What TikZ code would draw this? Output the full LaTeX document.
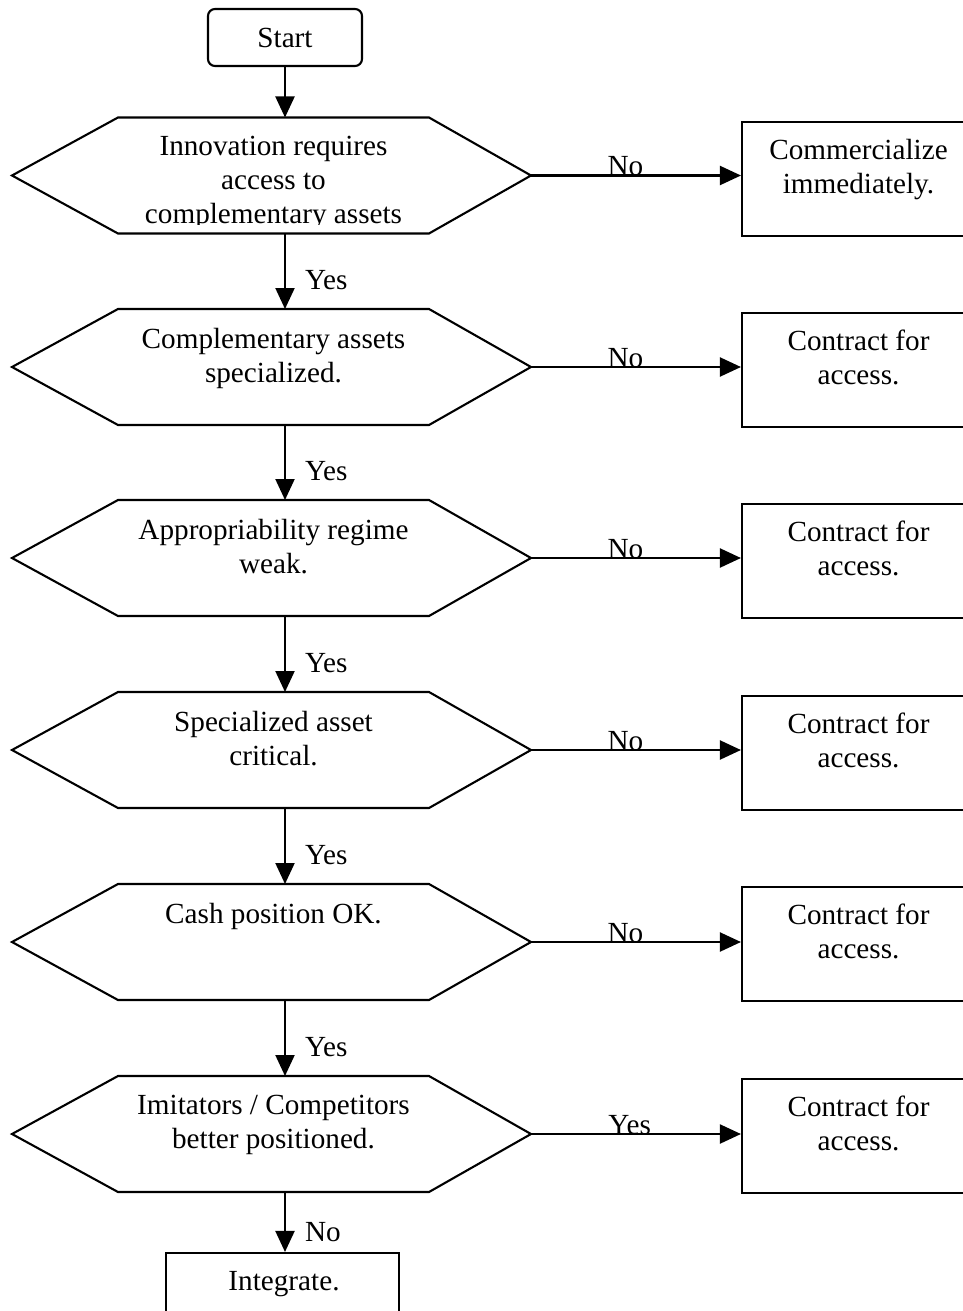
\documentclass[tikz,border=0pt]{standalone}
\usepackage{fontspec}
\setmainfont{Liberation Serif}
\usetikzlibrary{arrows.meta}

\tikzset{
  every picture/.style={x=1pt, y=-1pt},
  edge line/.style={line width=2.1pt},
  flow/.style={edge line, -{Triangle[length=21pt,width=19pt]}},
  txt/.style={font=\fontsize{29.2}{34}\selectfont, align=center, inner sep=0pt, outer sep=0pt},
  startbox/.style={draw, edge line, rounded corners=7pt, minimum width=154pt,
                   minimum height=57pt, inner sep=0pt, txt},
  hexframe/.style={minimum width=519pt, minimum height=116pt, inner sep=0pt, outer sep=0pt},
  rbox/.style={draw, edge line, minimum width=233pt, minimum height=114pt, inner sep=0pt},
  lowbox/.style={draw, edge line, minimum width=233pt, minimum height=110pt, inner sep=0pt},
  flowlabel/.style={txt, anchor=base},
  sidelabel/.style={txt, anchor=base west, xshift=20pt},
}

% hexagonal decision outline built on an empty frame node
\newcommand\hexoutline[1]{%
  \draw[edge line, line join=miter]
    (#1.west) -- ([xshift=106pt]#1.north west) -- ([xshift=-102pt]#1.north east)
    -- (#1.east) -- ([xshift=-102pt]#1.south east) -- ([xshift=106pt]#1.south west)
    -- cycle;}

\begin{document}
\begin{tikzpicture}
\useasboundingbox (0,0) rectangle (963,1311);
\clip (0,0) rectangle (963,1311);

% start terminal
\node[startbox] (s) at (285,37.5) {Start};

% decision frames
\node[hexframe] (h1) at (271.5,175.5) {};
\node[hexframe] (h2) at (271.5,367) {};
\node[hexframe] (h3) at (271.5,558) {};
\node[hexframe] (h4) at (271.5,750) {};
\node[hexframe] (h5) at (271.5,942) {};
\node[hexframe] (h6) at (271.5,1134) {};
\foreach \h in {h1,h2,h3,h4,h5,h6}{\hexoutline{\h}}

% decision texts (the first one runs past the frame and is cut off)
\begin{scope}
  \clip (0,100) rectangle (560,224);
  \node[txt, anchor=north] (t1) at ([xshift=2pt,yshift=-19pt]h1.north)
    {Innovation requires\\access to\\complementary assets};
\end{scope}
\node[txt, anchor=north] (t2) at ([xshift=2pt,yshift=-19pt]h2.north)
  {Complementary assets\\specialized.};
\node[txt, anchor=north] (t3) at ([xshift=2pt,yshift=-19pt]h3.north)
  {Appropriability regime\\weak.};
\node[txt, anchor=north] (t4) at ([xshift=2pt,yshift=-19pt]h4.north)
  {Specialized asset\\critical.};
\node[txt, anchor=north] (t5) at ([xshift=2pt,yshift=-19pt]h5.north)
  {Cash position OK.};
\node[txt, anchor=north] (t6) at ([xshift=2pt,yshift=-19pt]h6.north)
  {Imitators / Competitors\\better positioned.};

% outcome boxes on the right
\node[rbox] (b1) at (858.5,179) {};
\node[rbox] (b2) at (858.5,370) {};
\node[rbox] (b3) at (858.5,561) {};
\node[rbox] (b4) at (858.5,753) {};
\node[rbox] (b5) at (858.5,944) {};
\node[rbox] (b6) at (858.5,1136) {};
\node[txt, anchor=north] (c1) at ([yshift=-18pt]b1.north) {Commercialize\\immediately.};
\foreach \b in {b2,b3,b4,b5,b6}{
  \node[txt, anchor=north] (c\b) at ([yshift=-18pt]\b.north) {Contract for\\access.};
}

% final box
\node[lowbox] (e) at (282.5,1308) {};
\node[txt, anchor=north] (et) at ([xshift=1.5pt,yshift=-19pt]e.north) {Integrate.};

% vertical flow
\draw[flow] (s.south) -- (h1.north -| s.south);
\draw[flow] (h1.south -| s.south) -- node[sidelabel, pos=0.74] {Yes} (h2.north -| s.south);
\draw[flow] (h2.south -| s.south) -- node[sidelabel, pos=0.74] {Yes} (h3.north -| s.south);
\draw[flow] (h3.south -| s.south) -- node[sidelabel, pos=0.74] {Yes} (h4.north -| s.south);
\draw[flow] (h4.south -| s.south) -- node[sidelabel, pos=0.74] {Yes} (h5.north -| s.south);
\draw[flow] (h5.south -| s.south) -- node[sidelabel, pos=0.74] {Yes} (h6.north -| s.south);
\draw[flow] (h6.south -| s.south) -- node[sidelabel, pos=0.82] {No} (e.north -| s.south);

% horizontal flow
\draw[flow] (h1.east) -- node[flowlabel, pos=0.45] {No} (h1.east -| b1.west);
\draw[flow] (h2.east) -- node[flowlabel, pos=0.45] {No} (h2.east -| b2.west);
\draw[flow] (h3.east) -- node[flowlabel, pos=0.45] {No} (h3.east -| b3.west);
\draw[flow] (h4.east) -- node[flowlabel, pos=0.45] {No} (h4.east -| b4.west);
\draw[flow] (h5.east) -- node[flowlabel, pos=0.45] {No} (h5.east -| b5.west);
\draw[flow] (h6.east) -- node[flowlabel, pos=0.47] {Yes} (h6.east -| b6.west);
\end{tikzpicture}
\end{document}
